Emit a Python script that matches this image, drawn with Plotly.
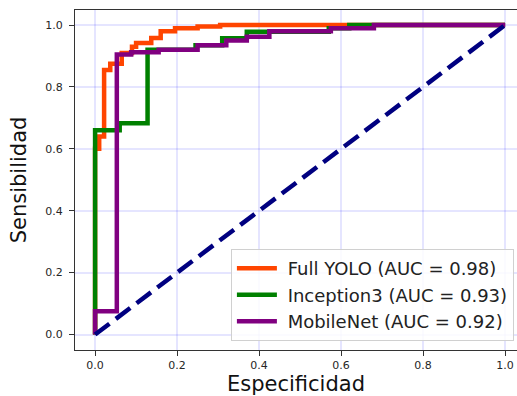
import plotly.graph_objects as go

# ROC curves (false positive rate / true positive rate)
yolo_fpr = [0, 0, 0.01, 0.01, 0.022, 0.022, 0.037, 0.037, 0.065, 0.065, 0.09, 0.09, 0.10, 0.10,
            0.137, 0.137, 0.16, 0.16, 0.195, 0.195, 0.25, 0.25, 0.305, 0.305, 1.0]
yolo_tpr = [0, 0.60, 0.60, 0.64, 0.64, 0.855, 0.855, 0.875, 0.875, 0.91, 0.91, 0.93, 0.93, 0.942,
            0.942, 0.958, 0.958, 0.98, 0.98, 0.99, 0.99, 0.995, 0.995, 1.0, 1.0]

incep_fpr = [0, 0, 0.06, 0.06, 0.128, 0.128, 0.245, 0.245, 0.31, 0.31, 0.37, 0.37, 0.57, 0.57,
             0.62, 0.62, 1.0]
incep_tpr = [0, 0.66, 0.66, 0.683, 0.683, 0.92, 0.92, 0.935, 0.935, 0.957, 0.957, 0.978, 0.978,
             0.99, 0.99, 1.0, 1.0]

mobile_fpr = [0, 0, 0.053, 0.053, 0.088, 0.088, 0.155, 0.155, 0.25, 0.25, 0.32, 0.32, 0.37, 0.37,
              0.425, 0.425, 0.575, 0.575, 0.68, 0.68, 1.0]
mobile_tpr = [0, 0.075, 0.075, 0.905, 0.905, 0.912, 0.912, 0.92, 0.92, 0.935, 0.935, 0.95, 0.95,
              0.962, 0.962, 0.98, 0.98, 0.99, 0.99, 1.0, 1.0]

diag_x = [0, 1]
diag_y = [0, 1]

names = ["Full YOLO (AUC = 0.98)", "Inception3 (AUC = 0.93)", "MobileNet (AUC = 0.92)"]
colors = ["#FF4500", "#008000", "#800080"]

tick_vals = [0.0, 0.2, 0.4, 0.6, 0.8, 1.0]
tick_text = ["0.0", "0.2", "0.4", "0.6", "0.8", "1.0"]

FONT = "DejaVu Sans"
NB = "\u00a0"

fig = go.Figure()
for i, (xs, ys, nm, col) in enumerate(zip([yolo_fpr, incep_fpr, mobile_fpr],
                                          [yolo_tpr, incep_tpr, mobile_tpr], names, colors)):
    fig.add_trace(go.Scatter(x=xs, y=ys, mode="lines", name=NB + nm,
                             legendgroup=f"g{i}",
                             line=dict(color=col, width=4.5)))

fig.add_trace(go.Scatter(x=diag_x, y=diag_y, mode="lines", showlegend=False,
                         line=dict(color="#000080", width=4.5, dash="18px,8px")))

axis_common = dict(
    tickvals=tick_vals, ticktext=tick_text,
    ticks="outside", ticklen=5, tickwidth=1, tickcolor="#333",
    showline=True, linecolor="#333", linewidth=1,
    showgrid=True, gridcolor="rgba(0,0,255,0.10)", gridwidth=1.5,
    zeroline=False, automargin=False, ticklabeloverflow="allow",
    tickfont=dict(family=FONT, size=11, color="#262626"),
)

fig.update_xaxes(range=[-0.049, 1.029], mirror=True,
                 title=dict(text="Especificidad", font=dict(family=FONT, size=21, color="#111"),
                            standoff=5),
                 **axis_common)
fig.update_yaxes(range=[-0.05, 1.0486], mirror=False, ticklabelstandoff=4,
                 title=dict(text="Sensibilidad", font=dict(family=FONT, size=21, color="#111"),
                            standoff=12),
                 **axis_common)

fig.update_layout(
    width=517, height=396,
    margin=dict(l=75, r=0, t=10, b=46),
    paper_bgcolor="white", plot_bgcolor="white",
    font=dict(family=FONT),
    legend=dict(x=0.993, y=0.026, xanchor="right", yanchor="bottom",
                bgcolor="rgba(255,255,255,0.85)", bordercolor="#d0d0d0", borderwidth=1,
                itemwidth=40, tracegroupgap=0, traceorder="grouped",
                font=dict(family=FONT, size=18, color="#222")),
)

fig.write_html("out.html", config={"displayModeBar": False},
               post_script="document.body.style.margin='0';document.body.style.overflow='hidden';")
